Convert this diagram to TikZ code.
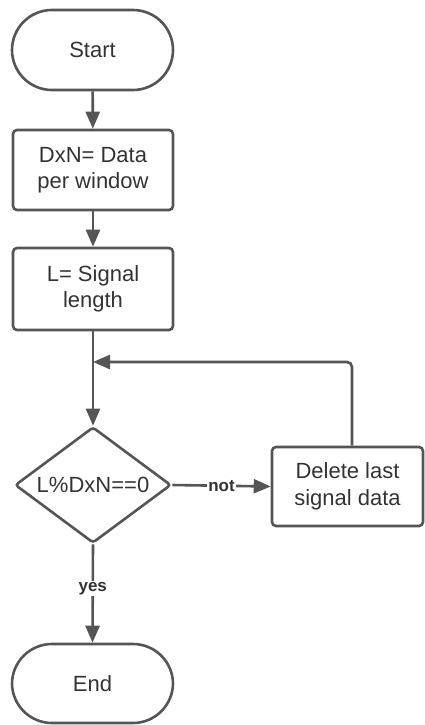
\documentclass[tikz,border=0pt]{standalone}
\usepackage{fontspec}
\setmainfont{Liberation Sans}
\usetikzlibrary{shapes.geometric,arrows.meta}
\definecolor{ln}{HTML}{555555}
\definecolor{tx}{HTML}{333333}
\tikzset{
  x=1pt,y=-1pt,
  base/.style={draw=ln,line width=2.6pt,text=tx,inner sep=0pt,align=center,
    font=\fontsize{22}{26.5}\selectfont},
  term/.style={base,rectangle,rounded corners=40pt,minimum width=161pt,minimum height=80pt},
  proc/.style={base,rectangle,rounded corners=4pt,minimum width=160pt,minimum height=80pt},
  dec/.style={base,diamond,aspect=1.34,minimum width=156pt,minimum height=116pt,rounded corners=3pt},
  flow/.style={draw=ln,line width=2.6pt,-{Triangle[length=17pt,width=14pt]}},
  lab/.style={fill=white,text=tx,inner sep=1pt,font=\fontsize{17}{19}\selectfont\bfseries}
}
\begin{document}
\begin{tikzpicture}
\useasboundingbox (0,0) rectangle (425,725);
\node[term] (start) at (92.5,50) {Start};
\node[proc] (p1) at (93,170) {DxN= Data\\per window};
\node[proc,minimum height=82pt] (p2) at (93,289) {L= Signal\\length};
\node[dec] (d) at (93,485) {L\%DxN==0};
\node[proc,minimum width=151pt,minimum height=79pt] (del) at (347.5,486.5) {Delete last\\signal data};
\node[term,minimum height=79pt] (end) at (92.5,683.5) {End};
\coordinate (j) at (93,362);
\draw[flow] (start) -- (p1);
\draw[flow] (p1) -- (p2);
\draw[flow] (p2.south) -- (d.north);
\draw[flow,rounded corners=5pt] (del.north -| 352,0) |- (j);
\draw[flow] (d.east) -- node[lab] {not} (del.west);
\draw[flow] (d.south) -- node[lab,pos=0.45] {yes} (end.north);
\end{tikzpicture}
\end{document}
